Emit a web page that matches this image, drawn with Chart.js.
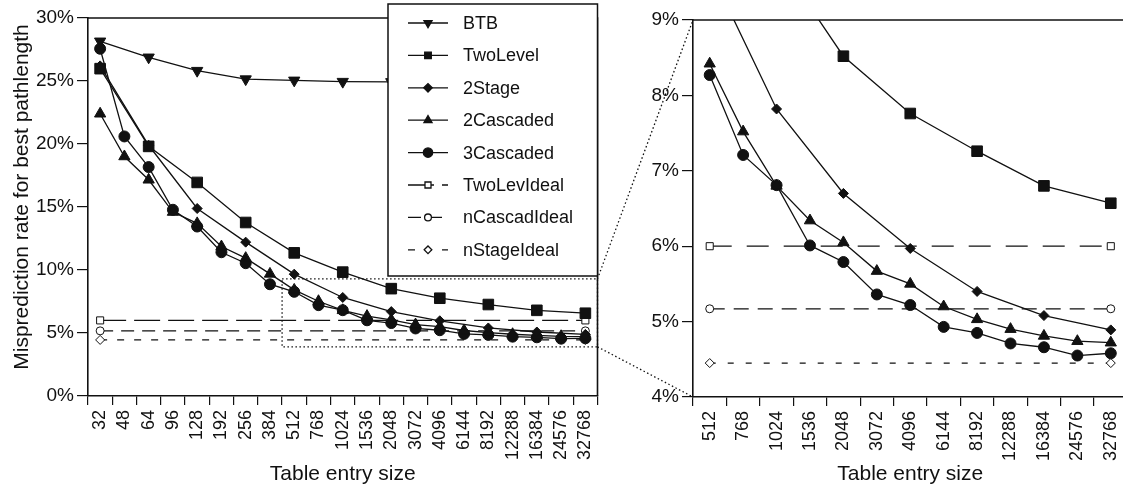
<!DOCTYPE html>
<html>
<head>
<meta charset="utf-8">
<script src="https://cdn.jsdelivr.net/npm/chart.js@4.4.0/dist/chart.umd.min.js"></script>
<style>
  html, body { margin: 0; padding: 0; background: #fff; overflow: hidden; }
  #wrap { position: relative; width: 1123px; height: 490px; overflow: hidden; }
  #left  { position: absolute; left: 0; top: 0; }
  #right { position: absolute; left: 590px; top: 0; }
</style>
</head>
<body>
<div id="wrap">
  <canvas id="left" width="606" height="490"></canvas>
  <canvas id="right" width="546" height="490"></canvas>
</div>
<script>
// ── DATA ─────────────────────────────────────────────────────
const sizes = ["32","48","64","96","128","192","256","384","512","768","1024","1536",
               "2048","3072","4096","6144","8192","12288","16384","24576","32768"];

const btb       = [28.15, null, 26.88, null, 25.82, null, 25.15, null, 25.05, null, 24.95, null,
                   24.93, null, 24.9, null, 24.9, null, 24.9, null, 24.9];
const twoLevel  = [25.98, null, 19.81, null, 16.95, null, 13.77, null, 11.36, null, 9.83, null,
                   8.52, null, 7.76, null, 7.26, null, 6.80, null, 6.57];
const twoStage  = [26.2, null, 19.9, null, 14.88, null, 12.21, null, 9.67, null, 7.82, null,
                   6.70, null, 5.97, null, 5.40, null, 5.08, null, 4.89];
const twoCasc   = [22.4, 19.01, 17.16, 14.6, 13.7, 11.86, 10.94, 9.69, 8.42, 7.52, 6.80, 6.34,
                   6.05, 5.67, 5.50, 5.20, 5.03, 4.90, 4.81, 4.74, 4.72];
const threeCasc = [27.56, 20.6, 18.17, 14.78, 13.45, 11.41, 10.54, 8.87, 8.27, 7.21, 6.81, 6.01,
                   5.79, 5.36, 5.22, 4.93, 4.85, 4.71, 4.66, 4.55, 4.58];

const twoLevIdeal  = 6.0;
const nCascadIdeal = 5.17;
const nStageIdeal  = 4.45;

const leftTicks  = [0, 5, 10, 15, 20, 25, 30];
const rightTicks = [4, 5, 6, 7, 8, 9];
const zoomFrom = "512";      // first category in the zoomed chart
const zoomTop = 9.3, zoomBottom = 3.9;

// ── STYLE ────────────────────────────────────────────────────
const FONT = "'Liberation Sans', Arial, Helvetica, sans-serif";
const INK = "#111";

const SERIES = [
  { label: "BTB",         data: btb,       style: "triangle", rot: 180, r: 6.5, fill: INK },
  { label: "TwoLevel",    data: twoLevel,  style: "rect",     rot: 0,   r: 7.5, fill: INK },
  { label: "2Stage",      data: twoStage,  style: "rectRot",  rot: 0,   r: 5,   fill: INK },
  { label: "2Cascaded",   data: twoCasc,   style: "triangle", rot: 0,   r: 6.5, fill: INK },
  { label: "3Cascaded",   data: threeCasc, style: "circle",   rot: 0,   r: 5.5, fill: INK },
  { label: "TwoLevIdeal", ideal: twoLevIdeal,  style: "rect",    rot: 0, r: 5,   fill: "#fff",
    dashL: [26, 8],  dashR: [22, 15] },
  { label: "nCascadIdeal", ideal: nCascadIdeal, style: "circle", rot: 0, r: 4,   fill: "#fff",
    dashL: [13, 8],  dashR: [15, 9] },
  { label: "nStageIdeal", ideal: nStageIdeal,  style: "rectRot", rot: 0, r: 4.5, fill: "#fff",
    dashL: [7, 10],  dashR: [6, 12] },
];

function buildDatasets(labels, startIdx, side) {
  return SERIES.map(s => {
    let data;
    if (s.ideal !== undefined) {
      data = [{ x: labels[0], y: s.ideal }, { x: labels[labels.length - 1], y: s.ideal }];
    } else {
      data = s.data.slice(startIdx);
    }
    return {
      label: s.label,
      data,
      borderColor: INK,
      borderWidth: 1.3,
      borderDash: s.ideal !== undefined ? (side === "L" ? s.dashL : s.dashR) : [],
      pointStyle: s.style,
      pointRotation: s.rot,
      pointRadius: s.r,
      pointHoverRadius: s.r,
      pointBackgroundColor: s.fill,
      pointBorderColor: INK,
      pointBorderWidth: 1,
      spanGaps: true,
      tension: 0,
    };
  });
}

function axesFor(labels, yMin, yMax, ticks, yWidth, xHeight) {
  return {
    x: {
      type: "category",
      labels,
      offset: true,
      grid: { offset: true, drawOnChartArea: false, drawTicks: true, tickLength: 9, color: INK, lineWidth: 1.2 },
      border: { color: INK, width: 1.6 },
      ticks: { color: INK, font: { family: FONT, size: 18 }, minRotation: 90, maxRotation: 90, autoSkip: false, padding: 5 },
      title: { display: true, text: "Table entry size", color: INK, font: { family: FONT, size: 21 }, padding: { top: 0, bottom: 3 } },
      afterFit(s) { s.height = xHeight; s.paddingLeft = 0; s.paddingRight = 0; },
    },
    y: {
      min: yMin, max: yMax,
      afterBuildTicks(s) { s.ticks = ticks.map(v => ({ value: v })); },
      grid: { drawOnChartArea: false, drawTicks: true, tickLength: 11, color: INK, lineWidth: 1.2 },
      border: { color: INK, width: 1.6 },
      ticks: { color: INK, font: { family: FONT, size: 19 }, padding: 3, callback: v => v + "%" },
      afterFit(s) { s.width = yWidth; s.paddingTop = 0; s.paddingBottom = 0; },
    },
  };
}

// box of the zoomed region on the left chart
function zoomRect(chart) {
  const x = chart.scales.x, y = chart.scales.y;
  const i = sizes.indexOf(zoomFrom);
  const half = (x.getPixelForValue(1) - x.getPixelForValue(0)) / 2;
  return {
    left: x.getPixelForValue(i) - half,
    right: chart.chartArea.right,
    top: y.getPixelForValue(zoomTop),
    bottom: y.getPixelForValue(zoomBottom),
  };
}

const leftDecor = {
  id: "leftDecor",
  afterDraw(chart) {
    const ctx = chart.ctx, a = chart.chartArea;
    ctx.save();
    // y title
    ctx.fillStyle = INK; ctx.font = "21px " + FONT;
    ctx.textAlign = "center"; ctx.textBaseline = "middle";
    ctx.save(); ctx.translate(22, 197); ctx.rotate(-Math.PI / 2);
    ctx.fillText("Misprediction rate for best pathlength", 0, 0);
    ctx.restore();
    // zoom box
    const z = zoomRect(chart);
    ctx.strokeStyle = INK; ctx.lineWidth = 1.3; ctx.setLineDash([1.5, 2.5]);
    ctx.strokeRect(z.left, z.top, z.right - z.left, z.bottom - z.top);
    // frame (top + right)
    ctx.setLineDash([]); ctx.lineWidth = 1.6;
    ctx.beginPath();
    ctx.moveTo(a.left, a.top); ctx.lineTo(a.right, a.top); ctx.lineTo(a.right, a.bottom);
    ctx.stroke();
    // legend
    const lx = 388, ly = 4, lw = a.right - 388, lh = 272;
    ctx.fillStyle = "#fff"; ctx.fillRect(lx, ly, lw, lh);
    ctx.lineWidth = 1.5; ctx.strokeRect(lx, ly, lw, lh);
    ctx.font = "18px " + FONT; ctx.textBaseline = "middle"; ctx.textAlign = "left";
    chart.data.datasets.forEach((ds, i) => {
      const yy = 23 + i * 32.4;
      ctx.strokeStyle = INK; ctx.lineWidth = 1.3; ctx.setLineDash(ds.borderDash);
      ctx.beginPath(); ctx.moveTo(408, yy); ctx.lineTo(448, yy); ctx.stroke();
      ctx.setLineDash([]);
      ctx.fillStyle = ds.pointBackgroundColor; ctx.strokeStyle = INK;
      Chart.helpers.drawPoint(ctx, {
        pointStyle: ds.pointStyle, rotation: ds.pointRotation,
        radius: Math.min(ds.pointRadius, 5.5) * 0.85, borderWidth: 1,
      }, 428, yy);
      ctx.fillStyle = INK;
      ctx.fillText(ds.label, 463, yy + 1);
    });
    ctx.restore();
  },
};

const leftChart = new Chart(document.getElementById("left"), {
  type: "line",
  data: { labels: sizes, datasets: buildDatasets(sizes, 0, "L") },
  options: {
    responsive: false,
    animation: false,
    layout: { padding: { top: 18, right: 3, left: 0, bottom: 0 } },
    plugins: { legend: { display: false }, tooltip: { enabled: false } },
    scales: axesFor(sizes, 0, 30, leftTicks, 88, 94),
  },
  plugins: [leftDecor],
});

const rightDecor = {
  id: "rightDecor",
  afterDraw(chart) {
    const ctx = chart.ctx, a = chart.chartArea;
    const off = chart.canvas.offsetLeft - leftChart.canvas.offsetLeft;
    const z = zoomRect(leftChart);
    ctx.save();
    ctx.strokeStyle = INK; ctx.lineWidth = 1.6;
    ctx.beginPath(); ctx.moveTo(a.left, a.top); ctx.lineTo(a.right, a.top); ctx.stroke();
    // connectors to the zoom box
    ctx.lineWidth = 1.3; ctx.setLineDash([1.5, 2.5]);
    ctx.beginPath();
    ctx.moveTo(z.right - off, z.top); ctx.lineTo(a.left, a.top);
    ctx.moveTo(z.right - off, z.bottom); ctx.lineTo(a.left, a.bottom);
    ctx.stroke();
    ctx.restore();
  },
};

const start = sizes.indexOf(zoomFrom);
const zoomSizes = sizes.slice(start);
new Chart(document.getElementById("right"), {
  type: "line",
  data: { labels: zoomSizes, datasets: buildDatasets(zoomSizes, start, "R") },
  options: {
    responsive: false,
    animation: false,
    layout: { padding: { top: 20, right: 5, left: 0, bottom: 0 } },
    plugins: { legend: { display: false }, tooltip: { enabled: false } },
    scales: axesFor(zoomSizes, 4, 9, rightTicks, 103, 93),
  },
  plugins: [rightDecor],
});
</script>
</body>
</html>
